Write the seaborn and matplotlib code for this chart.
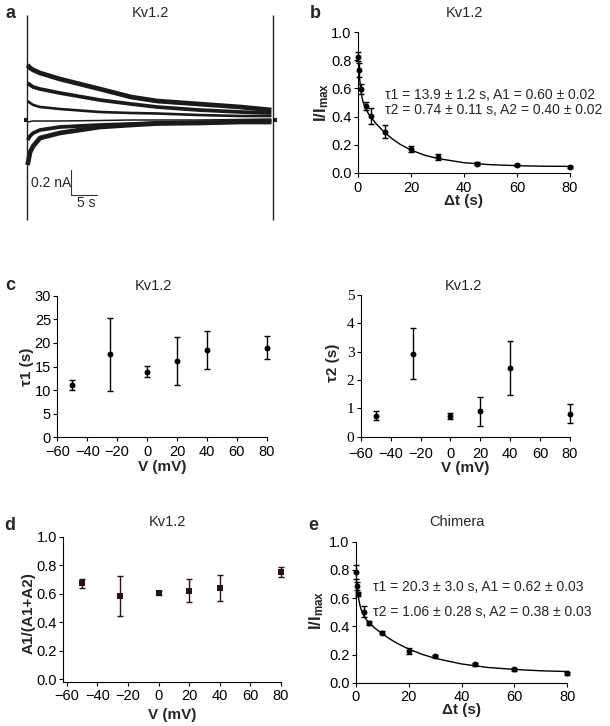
import numpy as np
import matplotlib
matplotlib.use("Agg")
import matplotlib.pyplot as plt
import seaborn as sns

sns.set_style("ticks")
plt.rcParams.update({
    "font.family": ["Liberation Sans", "DejaVu Sans"],
    "font.size": 10.5,
    "axes.linewidth": 0.8,
    "axes.edgecolor": "black",
    "xtick.color": "black",
    "ytick.color": "black",
    "mathtext.fontset": "custom",
    "mathtext.rm": "Liberation Sans",
    "mathtext.bf": "Liberation Sans:bold",
})

W, H = 610, 726

# ── a: current traces (nA) sampled along the sweep (s) ──────────────────
trace_t = [0.1, 0.6, 1.2, 2.5, 6.3, 14, 20, 25, 33, 41, 47]
trace_1 = [0.44, 0.416, 0.40, 0.376, 0.328, 0.248, 0.184, 0.152, 0.128, 0.104, 0.08]
trace_2 = [0.296, 0.28, 0.264, 0.248, 0.216, 0.16, 0.128, 0.104, 0.08, 0.064, 0.056]
trace_3 = [0.152, 0.136, 0.12, 0.104, 0.088, 0.064, 0.056, 0.052, 0.04, 0.032, 0.032]
trace_4 = [-0.016, -0.012, -0.008, -0.008, -0.008, -0.004, 0.0, 0.0, 0.0, 0.004, 0.008]
trace_5 = [-0.16, -0.128, -0.104, -0.08, -0.056, -0.04, -0.032, -0.024, -0.02, -0.016, -0.008]
trace_6 = [-0.36, -0.256, -0.208, -0.144, -0.104, -0.056, -0.04, -0.028, -0.024, -0.016, -0.016]
spike_t = [0.0, 47.3]
spike_range = [-0.80, 0.84]

# ── b / e: recovery I/Imax vs interval ──────────────────────────────────
recov_t = [0, 0.5, 1, 3, 5, 10, 20, 30, 45, 60, 80]
kv_recov = [0.825, 0.73, 0.594, 0.475, 0.404, 0.292, 0.169, 0.114, 0.067, 0.055, 0.043]
kv_recov_err = [0.03, 0.05, 0.035, 0.03, 0.06, 0.045, 0.02, 0.02, 0.01, 0.007, 0.005]
chim_recov = [0.787, 0.686, 0.629, 0.504, 0.426, 0.355, 0.225, 0.19, 0.13, 0.095, 0.066]
chim_recov_err = [0.05, 0.03, 0.015, 0.04, 0.015, 0.012, 0.02, 0.01, 0.01, 0.012, 0.012]

fit_t = [0, 0.25, 0.5, 1, 1.5, 2, 3, 4, 5, 7, 10, 13, 16, 20, 25, 30, 40, 50, 60, 70, 80]
kv_fit = [0.875, 0.771, 0.695, 0.594, 0.536, 0.499, 0.452, 0.419, 0.393, 0.346, 0.288,
          0.241, 0.202, 0.163, 0.127, 0.103, 0.073, 0.059, 0.052, 0.048, 0.047]
chim_fit = [0.80, 0.736, 0.685, 0.609, 0.558, 0.522, 0.477, 0.448, 0.426, 0.391, 0.347,
            0.309, 0.276, 0.239, 0.202, 0.173, 0.133, 0.108, 0.094, 0.0845, 0.079]

kv_fit_text = ["τ1 = 13.9 ± 1.2 s, A1 = 0.60 ± 0.02", "τ2 = 0.74 ± 0.11 s, A2 = 0.40 ± 0.02"]
chim_fit_text = ["τ1 = 20.3 ± 3.0 s, A1 = 0.62 ± 0.03", "τ2 = 1.06 ± 0.28 s, A2 = 0.38 ± 0.03"]

# ── c / d: fit parameters vs voltage ────────────────────────────────────
volt = [-50, -25, 0, 20, 40, 80]
tau1 = [11.1, 17.6, 13.9, 16.2, 18.5, 19.0]
tau1_err = [1.0, 7.7, 1.2, 5.1, 4.1, 2.5]
tau2 = [0.74, 2.93, 0.74, 0.90, 2.42, 0.81]
tau2_err = [0.16, 0.91, 0.11, 0.51, 0.95, 0.34]
frac_a1 = [0.673, 0.586, 0.603, 0.621, 0.640, 0.752]
frac_a1_err = [0.03, 0.14, 0.015, 0.08, 0.09, 0.037]

V_TICKS = [-60, -40, -20, 0, 20, 40, 60, 80]
T_TICKS = [0, 20, 40, 60, 80]
FRAC_TICKS = [0.0, 0.2, 0.4, 0.6, 0.8, 1.0]
DARK = "#2a1214"
TICK_FS = 10.5
TITLE_FS = 10.5
LABEL_FS = 11

fig = plt.figure(figsize=(W / 100, H / 100), dpi=100)


def add_ax(l, t, r, b):
    return fig.add_axes([l / W, 1 - b / H, (r - l) / W, (b - t) / H])


def ftext(x, y, s, **kw):
    kw.setdefault("ha", "center")
    kw.setdefault("va", "center")
    fig.text(x / W, 1 - y / H, s, **kw)


def style(ax, xt, yt, fmt=None):
    sns.despine(ax=ax)
    ax.set_xticks(xt)
    ax.set_yticks(yt)
    if fmt:
        ax.set_yticklabels([fmt.format(v) for v in yt])
    ax.tick_params(length=3, width=0.8, labelsize=TICK_FS)
    ax.tick_params(axis="y", pad=1.5)
    ax.tick_params(axis="x", pad=2.5)
    ax.set_xlabel("")
    ax.set_ylabel("")


def points(ax, x, y, err, marker="o", color="black", size=18):
    ax.errorbar(x, y, yerr=err, fmt="none", ecolor=color, elinewidth=1,
                capsize=2, capthick=1, clip_on=False, zorder=2)
    sns.scatterplot(x=x, y=y, ax=ax, marker=marker, color=color, s=size,
                    linewidth=0, clip_on=False, zorder=3)


# ── a ───────────────────────────────────────────────────────────────────
ax_a = add_ax(20, 10, 280, 225)
for tr, lw in zip([trace_1, trace_2, trace_3, trace_4, trace_5, trace_6],
                  [3.4, 2.7, 1.9, 1.1, 2.7, 3.4]):
    sns.lineplot(x=trace_t, y=tr, ax=ax_a, color="#1a1a1a", linewidth=lw,
                 estimator=None, sort=False, solid_capstyle="butt")
ax_a.vlines(spike_t, spike_range[0], spike_range[1], color="#222222", linewidth=1)
ax_a.hlines(0, -0.6, 0, color="#1a1a1a", linewidth=3)
ax_a.hlines(0, 47.3, 48.0, color="#1a1a1a", linewidth=3)
# scale bar 0.2 nA / 5 s
ax_a.plot([8.5, 8.5, 13.5], [-0.4, -0.6, -0.6], color="#333333", linewidth=0.8)
ax_a.set_xlim(-1.35, 48.65)
ax_a.set_ylim(-0.84, 0.88)
ax_a.axis("off")
ftext(51, 183, "0.2 nA", fontsize=10)
ftext(86, 203, "5 s", fontsize=10)
ftext(10, 14, "a", fontsize=13, fontweight="bold")
ftext(150, 13, "Kv1.2", fontsize=TITLE_FS)

# ── b ───────────────────────────────────────────────────────────────────
ax_b = add_ax(358, 32, 570, 173)
sns.lineplot(x=fit_t, y=kv_fit, ax=ax_b, color="black", linewidth=1,
             estimator=None, sort=False)
points(ax_b, recov_t, kv_recov, kv_recov_err)
ax_b.set_xlim(0, 80)
ax_b.set_ylim(0, 1)
style(ax_b, T_TICKS, FRAC_TICKS, "{:.1f}")
ftext(315, 13, "b", fontsize=13, fontweight="bold")
ftext(464, 13, "Kv1.2", fontsize=TITLE_FS)
ftext(322, 102, r"$\mathbf{I/I_{max}}$", fontsize=12, rotation=90)
ftext(464, 201, "Δt (s)", fontsize=LABEL_FS, fontweight="bold")
ftext(385, 95, kv_fit_text[0], fontsize=10, ha="left")
ftext(385, 110, kv_fit_text[1], fontsize=10, ha="left")

# ── c ───────────────────────────────────────────────────────────────────
ax_c1 = add_ax(57.3, 295.7, 266.7, 437.3)
points(ax_c1, volt, tau1, tau1_err)
ax_c1.set_xlim(-60, 80)
ax_c1.set_ylim(0, 30)
style(ax_c1, V_TICKS, [0, 5, 10, 15, 20, 25, 30])
ftext(10, 285, "c", fontsize=13, fontweight="bold")
ftext(153, 286, "Kv1.2", fontsize=TITLE_FS)
ftext(27, 367, "τ1 (s)", fontsize=LABEL_FS, fontweight="bold", rotation=90)
ftext(162, 467, "V (mV)", fontsize=LABEL_FS, fontweight="bold")

ax_c2 = add_ax(360.7, 295, 570, 436.7)
points(ax_c2, volt, tau2, tau2_err)
ax_c2.set_xlim(-60, 80)
ax_c2.set_ylim(0, 5)
style(ax_c2, V_TICKS, [0, 1, 2, 3, 4, 5])
ax_c2.tick_params(axis="x", pad=4.5)
for lab in ax_c2.get_yticklabels():
    lab.set_fontfamily("Liberation Serif")
    lab.set_fontsize(11)
ftext(463, 286, "Kv1.2", fontsize=TITLE_FS)
ftext(333, 363, "τ2 (s)", fontsize=LABEL_FS, fontweight="bold", rotation=90)
ftext(465, 468, "V (mV)", fontsize=LABEL_FS, fontweight="bold")

# ── d ───────────────────────────────────────────────────────────────────
ax_d = add_ax(63.3, 536.7, 281, 681.7)
points(ax_d, volt, frac_a1, frac_a1_err, marker="s", color=DARK, size=20)
ax_d.set_xlim(-62.2, 80)
ax_d.set_ylim(-0.017, 1.0)
style(ax_d, V_TICKS, FRAC_TICKS, "{:.1f}")
ftext(10, 525, "d", fontsize=13, fontweight="bold")
ftext(167, 522, "Kv1.2", fontsize=TITLE_FS)
ftext(29, 613, "A1/(A1+A2)", fontsize=LABEL_FS, fontweight="bold", rotation=90)
ftext(172, 715, "V (mV)", fontsize=LABEL_FS, fontweight="bold")

# ── e ───────────────────────────────────────────────────────────────────
ax_e = add_ax(355.7, 541.7, 567.3, 682.7)
sns.lineplot(x=fit_t, y=chim_fit, ax=ax_e, color="black", linewidth=1,
             estimator=None, sort=False)
points(ax_e, recov_t, chim_recov, chim_recov_err)
ax_e.set_xlim(0, 80)
ax_e.set_ylim(0, 1)
style(ax_e, T_TICKS, FRAC_TICKS, "{:.1f}")
ftext(313, 525, "e", fontsize=13, fontweight="bold")
ftext(457, 522, "Chimera", fontsize=TITLE_FS)
ftext(317, 610, r"$\mathbf{I/I_{max}}$", fontsize=12, rotation=90)
ftext(461, 710, "Δt (s)", fontsize=LABEL_FS, fontweight="bold")
ftext(373, 587, chim_fit_text[0], fontsize=10, ha="left")
ftext(373, 612, chim_fit_text[1], fontsize=10, ha="left")

fig.savefig("out.png", dpi=100)
